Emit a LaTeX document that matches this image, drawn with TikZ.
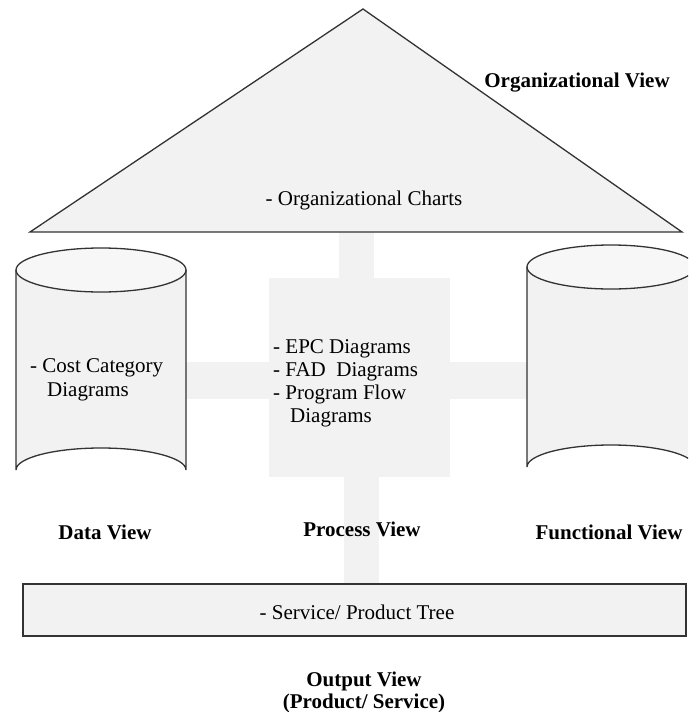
\documentclass[tikz,border=0pt]{standalone}
\usepackage{fontspec}
\setmainfont{Liberation Serif}
\definecolor{shade}{HTML}{F2F2F2}
\definecolor{topshade}{HTML}{F7F7F7}
\definecolor{edge}{HTML}{333333}
\tikzset{
  txt/.style={anchor=base west, inner sep=0pt, font=\fontsize{21}{23}\selectfont},
  ctxt/.style={anchor=base, inner sep=0pt, font=\fontsize{21}{23}\selectfont},
  lbl/.style={anchor=base, inner sep=0pt, font=\fontsize{21}{23}\selectfont\bfseries},
  bar/.style={fill=shade, draw=none},
  outline/.style={draw=edge, line width=1.3pt, fill=shade},
}
\begin{document}
\begin{tikzpicture}[x=1pt,y=-1pt]
\useasboundingbox (0,0) rectangle (688,712);
\begin{scope}
\clip (0,0) rectangle (688,712);
% cross of process view
\fill[bar] (339,230) rectangle (374,280);
\fill[bar] (186,362) rectangle (528,399);
\fill[bar] (269,278) rectangle (450,477);
\fill[bar] (344,475) rectangle (379,585);
% organizational triangle
\draw[outline, line join=miter] (30,232) -- (363,9) -- (682,232) -- cycle;
% data cylinder
\draw[outline] (16,270) -- (16,470) arc[start angle=180, end angle=360, x radius=85, y radius=22] -- (186,270);
\draw[draw=edge, line width=1.3pt, fill=topshade] (101,270) ellipse[x radius=85, y radius=22];
% functional cylinder
\draw[outline] (527,267) -- (527,467) arc[start angle=180, end angle=360, x radius=84, y radius=22] -- (695,267);
\draw[draw=edge, line width=1.3pt, fill=topshade] (611,267) ellipse[x radius=84, y radius=22];
% output rectangle
\draw[draw=edge, line width=2pt, fill=shade] (23,584) rectangle (686,636);
\end{scope}
% texts
\node[lbl] (orgview) at (577,87) {Organizational View};
\node[ctxt] (orgcharts) at (364,205) {- Organizational Charts};
\node[txt] (cost1) at (30,372) {- Cost Category};
\node[txt] (cost2) at (47,396) {Diagrams};
\node[txt] (epc) at (273,353) {- EPC Diagrams};
\node[txt] (fad) at (273,376) {- FAD\ \ Diagrams};
\node[txt] (prog1) at (273,399) {- Program Flow};
\node[txt] (prog2) at (290,422) {Diagrams};
\node[lbl] (dataview) at (105,539) {Data View};
\node[lbl] (procview) at (362,536) {Process View};
\node[lbl] (funcview) at (609,539) {Functional View};
\node[ctxt] (tree) at (357,619) {- Service/ Product Tree};
\node[lbl] (outview) at (364,686) {Output View};
\node[lbl] (outsub) at (364,708) {(Product/ Service)};
\end{tikzpicture}
\end{document}
